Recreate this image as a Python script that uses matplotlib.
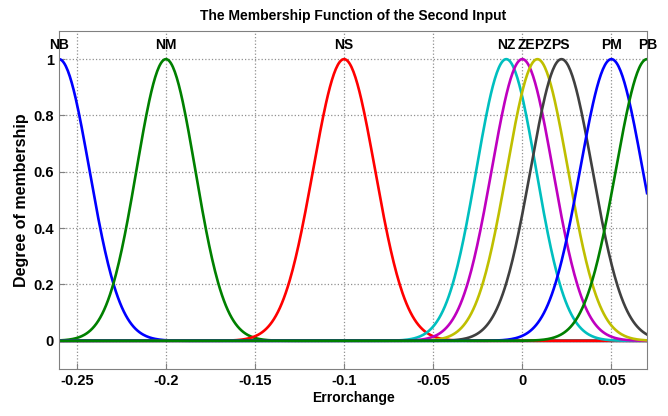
import numpy as np
import matplotlib
matplotlib.use('Agg')
import matplotlib.pyplot as plt

# membership functions of the second input (gaussian: center, sigma)
mf_names = ['NB', 'NM', 'NS', 'NZ', 'ZE', 'PZ', 'PS', 'PM', 'PB']
mf_centers = [-0.26, -0.20, -0.10, -0.009, 0.0, 0.0085, 0.022, 0.05, 0.07]
mf_sigmas = [0.0171, 0.0165, 0.0174, 0.0168, 0.0172, 0.0172, 0.0174, 0.0176, 0.0175]
mf_colors = ['#0000ff', '#008000', '#ff0000', '#00bfbf', '#bf00bf',
             '#bfbf00', '#404040', '#0000ff', '#008000']
# label x positions above the peaks
label_x = [-0.26, -0.20, -0.10, -0.0088, 0.0022, 0.0118, 0.0215, 0.05, 0.0705]

x_range = (-0.26, 0.07)
x_ticks = [-0.25, -0.2, -0.15, -0.1, -0.05, 0, 0.05]
x_tick_labels = ['-0.25', '-0.2', '-0.15', '-0.1', '-0.05', '0', '0.05']
y_ticks = [0, 0.2, 0.4, 0.6, 0.8, 1]
y_tick_labels = ['0', '0.2', '0.4', '0.6', '0.8', '1']

plt.rcParams['font.family'] = ['Liberation Sans', 'DejaVu Sans']
plt.rcParams['font.weight'] = 'bold'

fig = plt.figure(figsize=(6.68, 4.16), dpi=100)
ax = fig.add_axes([0.0883, 0.113, 0.8803, 0.8125])

x = np.linspace(x_range[0], x_range[1], 600)
for c, s, col in zip(mf_centers, mf_sigmas, mf_colors):
    ax.plot(x, np.exp(-(x - c) ** 2 / (2 * s ** 2)), color=col, lw=1.9)

for name, lx in zip(mf_names, label_x):
    ax.text(lx, 1.05, name, ha='center', va='center', fontsize=10,
            fontweight='bold', clip_on=False)

ax.set_xlim(*x_range)
ax.set_ylim(-0.1, 1.1)
ax.set_xticks(x_ticks)
ax.set_xticklabels(x_tick_labels)
ax.set_yticks(y_ticks)
ax.set_yticklabels(y_tick_labels)
ax.tick_params(direction='in', labelsize=10.5, length=4, color='#808080')
for lab in ax.get_xticklabels() + ax.get_yticklabels():
    lab.set_fontweight('bold')
ax.grid(True, linestyle=':', color='#909090', lw=0.9)
for sp in ax.spines.values():
    sp.set_color('#808080')

ax.set_xlabel('Errorchange', fontsize=10, fontweight='bold', labelpad=2)
ax.set_ylabel('Degree of membership', fontsize=11.5, fontweight='bold', labelpad=3)
ax.set_title('The Membership Function of the Second Input', fontsize=10,
             fontweight='bold', pad=8)

fig.savefig('out.png', dpi=100)
